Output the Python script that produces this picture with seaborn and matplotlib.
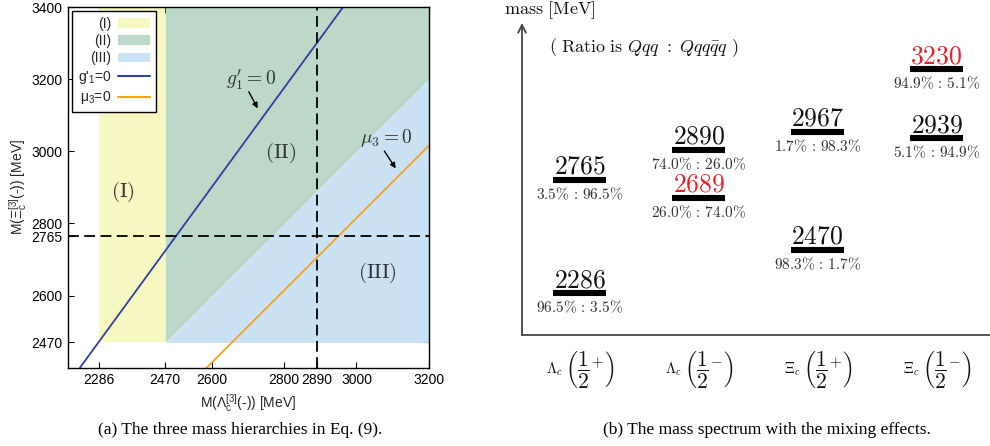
import matplotlib
matplotlib.use("Agg")
import matplotlib.pyplot as plt
import matplotlib.transforms as mtrans
import seaborn as sns
import numpy as np
import pandas as pd
from matplotlib.patches import Patch
from matplotlib.lines import Line2D

# ---------------- data ----------------
# left panel
lambda_ground = 2286      # Lambda_c(1/2+) ground
xi_ground = 2470          # Xi_c(1/2+) ground
lambda_exp = 2890         # dashed vertical
xi_exp = 2765             # dashed horizontal
g1_x = [2234, 2963]       # g'_1 = 0 line
g1_y = [2400, 3400]
mu3_x = [2585, 3200]      # mu_3 = 0 line
mu3_y = [2400, 3015]
x_ticks = [2286, 2470, 2600, 2800, 2890, 3000, 3200]
y_ticks = [2470, 2600, 2765, 2800, 3000, 3200, 3400]
region_labels = ["(I)", "(II)", "(III)"]

# right panel
cat_baryon = [r"$\Lambda_c$", r"$\Lambda_c$", r"$\Xi_c$", r"$\Xi_c$"]
cat_parity = [r"$\left(\dfrac{1}{2}^{+}\right)$", r"$\left(\dfrac{1}{2}^{-}\right)$",
              r"$\left(\dfrac{1}{2}^{+}\right)$", r"$\left(\dfrac{1}{2}^{-}\right)$"]
level_cat = [0, 0, 1, 1, 2, 2, 3, 3]
level_mass = [2286, 2765, 2689, 2890, 2470, 2967, 2939, 3230]
level_ratio = ["96.5% : 3.5%", "3.5% : 96.5%", "26.0% : 74.0%", "74.0% : 26.0%",
               "98.3% : 1.7%", "1.7% : 98.3%", "5.1% : 94.9%", "94.9% : 5.1%"]
level_red = [False, False, True, False, False, False, False, True]

# ---------------- style ----------------
sns.set_style("ticks")
plt.rcParams["font.family"] = ["Liberation Sans", "DejaVu Sans"]
plt.rcParams["mathtext.fontset"] = "cm"

C_YEL = "#f7f7c1"
C_GRN = "#bbd8c9"
C_BLU = "#cae2f3"
C_LINE_B = "#3040a0"
C_LINE_O = "#f5a21e"
C_RED = "#e8202a"
C_TXT = "#333333"

fig = plt.figure(figsize=(9.9, 4.46), dpi=100)

# ---------------- left panel ----------------
ax = fig.add_axes([0.0684, 0.1756, 0.3646, 0.8087])
ax.set_xlim(2200, 3200)
ax.set_ylim(2400, 3400)

ax.fill_between([lambda_ground, xi_ground], xi_ground, 3400, color=C_YEL, lw=0)
xs = np.array([xi_ground, 3200])
ax.fill_between(xs, xs, 3400, color=C_GRN, lw=0)
ax.fill_between(xs, xi_ground, xs, color=C_BLU, lw=0)

df_g = pd.DataFrame({"x": g1_x, "y": g1_y})
df_m = pd.DataFrame({"x": mu3_x, "y": mu3_y})
sns.lineplot(data=df_g, x="x", y="y", ax=ax, color=C_LINE_B, lw=1.3)
sns.lineplot(data=df_m, x="x", y="y", ax=ax, color=C_LINE_O, lw=1.3)

ax.axvline(lambda_exp, color="black", lw=1.3, dashes=(6, 3))
ax.axhline(xi_exp, color="black", lw=1.3, dashes=(6, 3))

ax.set_xticks(x_ticks)
ax.set_yticks(y_ticks)
ax.tick_params(direction="in", top=True, right=True, length=4, labelsize=10,
               width=0.8, colors="black")
for s in ax.spines.values():
    s.set_linewidth(1.0)
    s.set_color("black")

ax.set_xlabel(r"M($\mathregular{\Lambda_c^{[3]}}$(-)) [MeV]", fontsize=10, labelpad=4)
ax.set_ylabel(r"M($\mathregular{\Xi_c^{[3]}}$(-)) [MeV]", fontsize=10, labelpad=2)

tkw = dict(fontsize=15, color=C_TXT, ha="center", va="center")
ax.text(2352, 2886, r"$\mathrm{(I)}$", **tkw)
ax.text(2789, 2996, r"$\mathrm{(II)}$", **tkw)
ax.text(3059, 2664, r"$\mathrm{(III)}$", **tkw)

ax.annotate("", xy=(2730, 3112), xytext=(2698, 3172),
            arrowprops=dict(arrowstyle="-|>", color="black", lw=1.0,
                            mutation_scale=8))
ax.text(2708, 3198, r"$g_1^{\prime}=0$", fontsize=14, color=C_TXT, ha="center", va="center")
ax.annotate("", xy=(3113, 2946), xytext=(3073, 3007),
            arrowprops=dict(arrowstyle="-|>", color="black", lw=1.0,
                            mutation_scale=8))
ax.text(3082, 3037, r"$\mu_3=0$", fontsize=14, color=C_TXT, ha="center", va="center")

handles = [Patch(facecolor=C_YEL, edgecolor="none"),
           Patch(facecolor=C_GRN, edgecolor="none"),
           Patch(facecolor=C_BLU, edgecolor="none"),
           Line2D([], [], color=C_LINE_B, lw=1.5),
           Line2D([], [], color=C_LINE_O, lw=1.5)]
labels = region_labels + [r"g'$\mathregular{_1}$=0", r"$\mathregular{\mu_3}$=0"]
leg = ax.legend(handles, labels, loc="upper left", bbox_to_anchor=(0.012, 0.989),
                borderaxespad=0, markerfirst=False, fontsize=10, handlelength=2.3,
                handletextpad=0.5, labelspacing=0.25, fancybox=False, framealpha=1,
                edgecolor="black", borderpad=0.4)
leg.get_frame().set_linewidth(1.0)

# ---------------- right panel ----------------
ar = fig.add_axes([0.5273, 0.2489, 0.4727, 0.6996])
ar.set_xlim(-0.485, 3.448)
ar.set_ylim(2110, 3425)
ar.set_facecolor("none")
for k in ["top", "right", "left"]:
    ar.spines[k].set_visible(False)
ar.spines["bottom"].set_color("#444444")
ar.spines["bottom"].set_linewidth(1.3)
ar.annotate("", xy=(0, 1), xytext=(0, 0), xycoords="axes fraction",
            arrowprops=dict(arrowstyle="->", color="#444444", lw=1.3,
                            mutation_scale=14, shrinkA=0, shrinkB=0))
ar.set_yticks([])
ar.set_xticks([])

trans = mtrans.blended_transform_factory(ar.transData, ar.transAxes)
for i, (b, p) in enumerate(zip(cat_baryon, cat_parity)):
    ar.annotate(b, (i, -0.109), xycoords=trans, xytext=(-18, 0),
                textcoords="offset points", ha="center", va="center",
                fontsize=10.5, color="#111111")
    ar.annotate(p, (i, -0.109), xycoords=trans, xytext=(7, 0),
                textcoords="offset points", ha="center", va="center",
                fontsize=15.5, color="#111111")

ar.hlines(level_mass, np.array(level_cat) - 0.221, np.array(level_cat) + 0.221,
          color="black", lw=4.4)
for c, m, r, red in zip(level_cat, level_mass, level_ratio, level_red):
    ar.annotate(r"$\mathrm{%d}$" % m, (c, m), xytext=(0, 4.3), textcoords="offset points",
                ha="center", va="baseline", fontsize=18.5,
                color=C_RED if red else "#111111")
    ar.annotate(r"$\mathrm{%s}$" % r.replace("%", r"\%").replace(" ", r"\,"),
                (c, m), xytext=(0, -4.2), textcoords="offset points",
                ha="center", va="top", fontsize=11, color=C_TXT)

fig.text(550 / 990, 1 - 10 / 446, r"$\mathrm{mass\ [MeV]}$", fontsize=13,
         ha="center", va="center", color="#111111")
fig.text(643.7 / 990, 1 - 48 / 446,
         r"$(\ \mathrm{Ratio\ is\ }Qqq\ :\ Qqq\bar{q}q\ )$", fontsize=13,
         ha="center", va="center", color="#111111")

# captions
cap = dict(fontsize=12.5, ha="center", va="center", family="Liberation Serif", color="black")
fig.text(240 / 990, 1 - 430 / 446, "(a) The three mass hierarchies in Eq. (9).", **cap)
fig.text(767 / 990, 1 - 430 / 446, "(b) The mass spectrum with the mixing effects.", **cap)

fig.savefig("out.png", dpi=100)
